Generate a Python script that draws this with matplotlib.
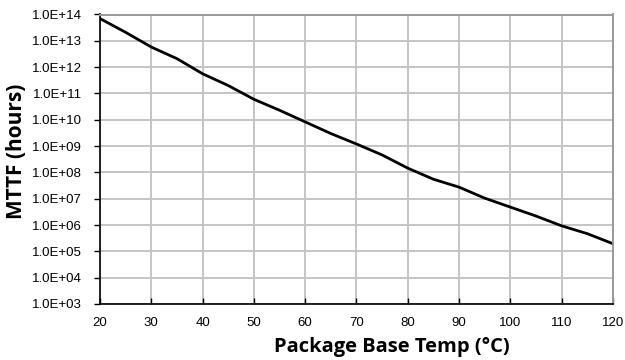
import math
import matplotlib
matplotlib.use("Agg")
import matplotlib.pyplot as plt
from matplotlib.ticker import FixedLocator, FuncFormatter

# package base temperature (C) and MTTF (hours)
temp_c = [20, 25, 30, 35, 40, 45, 50, 55, 60, 65, 70,
          75, 80, 85, 90, 95, 100, 105, 110, 115, 120]
mttf_hours = [7.0e13, 2.1e13, 5.8e12, 2.1e12, 5.6e11, 2.0e11, 6.0e10,
              2.3e10, 8.3e9, 3.0e9, 1.2e9, 4.6e8, 1.45e8, 5.5e7,
              2.75e7, 1.05e7, 4.8e6, 2.2e6, 9.3e5, 4.7e5, 1.95e5]
x_ticks = [20, 30, 40, 50, 60, 70, 80, 90, 100, 110, 120]
y_ticks = [10.0 ** e for e in range(3, 15)]

fig = plt.figure(figsize=(6.25, 3.6), dpi=100)
ax = fig.add_axes([100 / 625, 1 - 304 / 360, 513 / 625, 289.5 / 360])

ax.plot(temp_c, mttf_hours, color="black", lw=2.0, solid_joinstyle="round")

ax.set_yscale("log")
ax.set_xlim(20, 120)
ax.set_ylim(1e3, 1e14)
ax.xaxis.set_major_locator(FixedLocator(x_ticks))
ax.yaxis.set_major_locator(FixedLocator(y_ticks))
ax.yaxis.set_minor_locator(FixedLocator([]))

def sci_label(v, pos):
    return "1.0E+%02d" % int(round(math.log10(v)))

ax.yaxis.set_major_formatter(FuncFormatter(sci_label))

ax.grid(True, color="#c4c4c4", lw=1.4)
ax.set_axisbelow(True)
for side in ["top", "right"]:
    ax.spines[side].set_color("#999999")
    ax.spines[side].set_linewidth(1.4)
for side in ["left", "bottom"]:
    ax.spines[side].set_color("black")
    ax.spines[side].set_linewidth(1.2)

ax.tick_params(axis="y", direction="out", length=4, width=1, pad=9,
               labelsize=9.5, colors="black")
ax.tick_params(axis="x", direction="in", length=4, width=1, pad=9,
               labelsize=9.5, colors="black")
for lab in ax.get_xticklabels() + ax.get_yticklabels():
    lab.set_family("Liberation Sans")

ax.set_xlabel("Package Base Temp (°C)", fontsize=14.5, fontweight="bold",
              family="Open Sans")
ax.set_ylabel("MTTF (hours)", fontsize=15, fontweight="bold",
              family="Open Sans")
ax.xaxis.set_label_coords(0.569, -0.115)
ax.yaxis.set_label_coords(-0.142, 0.528)

fig.savefig("out.png", dpi=100)
